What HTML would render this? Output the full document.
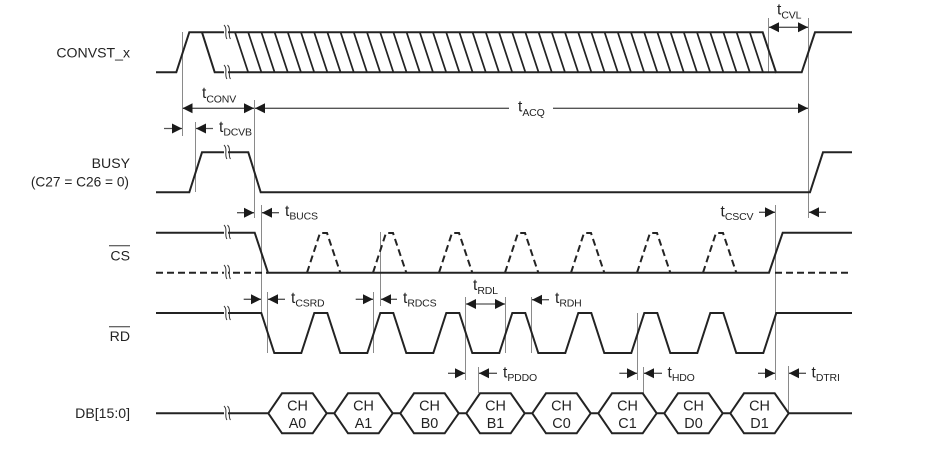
<!DOCTYPE html>
<html><head><meta charset="utf-8"><style>
html,body{margin:0;padding:0;background:#fff;width:926px;height:452px;overflow:hidden}
svg{display:block}
text{font-family:"Liberation Sans",Arial,sans-serif;fill:#232323}
.l{font-size:14.1px;text-anchor:end}
.s{font-size:13.7px;text-anchor:end}
.c{font-size:14.4px;text-anchor:middle}
.t{font-size:15.5px}
.t tspan{font-size:10.5px;letter-spacing:-.15px}
.m{fill:none;stroke:#232323;stroke-width:2}
.x{fill:none;stroke:#232323;stroke-width:1.7}
.d{fill:none;stroke:#232323;stroke-width:2;stroke-dasharray:7 4}
.v{fill:none;stroke:#8a8a8a;stroke-width:1}
.a{fill:none;stroke:#555;stroke-width:1.3}
.b{fill:none;stroke:#333;stroke-width:1}
.w{fill:#fff;stroke:none}
.h{fill:#1a1a1a;stroke:none}
</style></head><body>
<svg xmlns="http://www.w3.org/2000/svg" width="926" height="452" viewBox="0 0 926 452">
<!-- vertical guides -->
<path class="v" d="M182.5 32V136M254.5 100V218M808.5 18V218M768.5 18V72M195.5 122V192M261.5 205V313M267.5 292V353M373.5 292V353M380.5 232V306M465.5 297V380M505.5 297V353M531.5 297V353M478.5 367V393M637.5 313V380M643.5 367V393M775.5 205V380M788.5 366V413"/>
<!-- CONVST -->
<path class="m" d="M156 72.3H176.3L189.3 32.3H762.7L776 72.3H801.7L815 32.3H852"/>
<path class="m" d="M202 32.3L214.7 72.3H235"/>
<path class="x" d="M235 32.3l13.2 40M248.2 32.3l13.2 40M261.4 32.3l13.2 40M274.6 32.3l13.2 40M287.8 32.3l13.2 40M301 32.3l13.2 40M314.2 32.3l13.2 40M327.4 32.3l13.2 40M340.6 32.3l13.2 40M353.8 32.3l13.2 40M367 32.3l13.2 40M380.2 32.3l13.2 40M393.4 32.3l13.2 40M406.6 32.3l13.2 40M419.8 32.3l13.2 40M433 32.3l13.2 40M446.2 32.3l13.2 40M459.4 32.3l13.2 40M472.6 32.3l13.2 40M485.8 32.3l13.2 40M499 32.3l13.2 40M512.2 32.3l13.2 40M525.4 32.3l13.2 40M538.6 32.3l13.2 40M551.8 32.3l13.2 40M565 32.3l13.2 40M578.2 32.3l13.2 40M591.4 32.3l13.2 40M604.6 32.3l13.2 40M617.8 32.3l13.2 40M631 32.3l13.2 40M644.2 32.3l13.2 40M657.4 32.3l13.2 40M670.6 32.3l13.2 40M683.8 32.3l13.2 40M697 32.3l13.2 40M710.2 32.3l13.2 40M723.4 32.3l13.2 40M736.6 32.3l13.2 40M749.8 32.3l13.2 40"/>
<path class="m" d="M235 72.3H776"/>
<!-- BUSY -->
<path class="m" d="M156 192.3H189.3L202 152.3H248.3L260.7 192.3H810L823 152.3H852"/>
<!-- CS -->
<path class="m" d="M156 232.7H254.7L268 272.7H769L782.7 232.7H852"/>
<path class="d" d="M156 272.7H268M775 272.7H852"/>
<path class="d" d="M307 272.7L320 233H327L340.3 272.7M373 272.7L386 233H393L406.3 272.7M439 272.7L452 233H459L472.3 272.7M505 272.7L518 233H525L538.3 272.7M571 272.7L584 233H591L604.3 272.7M637 272.7L650 233H657L670.3 272.7M703 272.7L716 233H723L736.3 272.7"/>
<!-- RD -->
<path class="m" d="M156 313H261.3l13 40h27l13-40h13l13 40h27l13-40h13l13 40h27l13-40h13l13 40h27l13-40h13l13 40h27l13-40h13l13 40h27l13-40h13l13 40h27l13-40h13l13 40h27l13-40H852"/>
<!-- DB -->
<path class="m" d="M156 413.3H268.3l13.7-20h30.7l14 20l-14 20h-30.7l-13.7-20m58.4 0h7.6l13.7-20h30.7l14 20l-14 20h-30.7l-13.7-20m58.4 0h7.6l13.7-20h30.7l14 20l-14 20h-30.7l-13.7-20m58.4 0h7.6l13.7-20h30.7l14 20l-14 20h-30.7l-13.7-20m58.4 0h7.6l13.7-20h30.7l14 20l-14 20h-30.7l-13.7-20m58.4 0h7.6l13.7-20h30.7l14 20l-14 20h-30.7l-13.7-20m58.4 0h7.6l13.7-20h30.7l14 20l-14 20h-30.7l-13.7-20m58.4 0h7.6l13.7-20h30.7l14 20l-14 20h-30.7l-13.7-20m58.4 0H852"/>
<!-- break marks -->
<g>
<path class="w" d="M224 25h4v14h-4zM224 65h4v14h-4zM224 145h4v14h-4zM224 225h4v14h-4zM224 265h4v14h-4zM224 306h4v14h-4zM224 406h4v14h-4z"/>
<path class="b" d="M224 25c4 4 0 10 3 14M227.500 25c4 4 0 10 3 14M224 65c4 4 0 10 3 14M227.500 65c4 4 0 10 3 14M224 145c4 4 0 10 3 14M227.500 145c4 4 0 10 3 14M224 225c4 4 0 10 3 14M227.500 225c4 4 0 10 3 14M224 265c4 4 0 10 3 14M227.500 265c4 4 0 10 3 14M224 306c4 4 0 10 3 14M227.500 306c4 4 0 10 3 14M224 406c4 4 0 10 3 14M227.500 406c4 4 0 10 3 14"/>
</g>
<!-- arrow shafts -->
<path class="a" d="M183 108.300H254M255 108.300H509M553 108.300H808M769 27.300H808M164 128.500H182M196 128.500H213M237 212.700H254M262 212.700H279M759 212.300H775M809 212.300H826M243.700 299.300H261M268 299.300H285M355.700 299.300H373M381 299.300H397M466 304H505M532 299.700H549M448 373.300H465M479 373.300H497M619.300 373.300H637M644 373.300H662M758 373.300H775M789 373.300H806"/>
<!-- arrowheads -->
<path class="h" d="M182.500 108.300l10-5v10zM254 108.300l-10-5v10zM255 108.300l10-5v10zM808 108.300l-10-5v10zM769 27.300l10-5v10zM808 27.300l-10-5v10zM182 128.500l-10-5v10zM196 128.500l10-5v10zM254 212.700l-10-5v10zM262 212.700l10-5v10zM775 212.300l-10-5v10zM809 212.300l10-5v10zM261 299.300l-10-5v10zM268 299.300l10-5v10zM373 299.300l-10-5v10zM381 299.300l10-5v10zM466 304l10-5v10zM505 304l-10-5v10zM532 299.700l10-5v10zM465 373.300l-10-5v10zM479 373.300l10-5v10zM637 373.300l-10-5v10zM644 373.300l10-5v10zM775 373.300l-10-5v10zM789 373.300l10-5v10z"/>
<!-- signal labels -->
<text class="l" x="130" y="57.500">CONVST_x</text>
<text class="l" x="130" y="168">BUSY</text>
<text class="s" x="129" y="186.500">(C27 = C26 = 0)</text>
<text class="l" x="130" y="260.500">CS</text>
<text class="l" x="130" y="341">RD</text>
<text class="l" x="130" y="418">DB[15:0]</text>
<path d="M109 245.800H130M109 326.800H130" fill="none" stroke="#333" stroke-width="1"/>
<!-- timing labels -->
<text class="t" x="202" y="98">t<tspan dy="4.500">CONV</tspan></text>
<text class="t" x="518" y="111.500">t<tspan dy="4.500">ACQ</tspan></text>
<text class="t" x="777" y="14.500">t<tspan dy="4">CVL</tspan></text>
<text class="t" x="219" y="132">t<tspan dy="3.500">DCVB</tspan></text>
<text class="t" x="285" y="216">t<tspan dy="3.500">BUCS</tspan></text>
<text class="t" x="720.500" y="216.500">t<tspan dy="3.500">CSCV</tspan></text>
<text class="t" x="291" y="303">t<tspan dy="3.500">CSRD</tspan></text>
<text class="t" x="403" y="303">t<tspan dy="3.500">RDCS</tspan></text>
<text class="t" x="473" y="290">t<tspan dy="4">RDL</tspan></text>
<text class="t" x="555" y="303">t<tspan dy="3.500">RDH</tspan></text>
<text class="t" x="503" y="377.500">t<tspan dy="3.500">PDDO</tspan></text>
<text class="t" x="667.500" y="377.500">t<tspan dy="3.500">HDO</tspan></text>
<text class="t" x="811.500" y="377.500">t<tspan dy="3.500">DTRI</tspan></text>
<!-- hex labels -->
<text class="c" x="297.500" y="410.700">CH</text><text class="c" x="297.500" y="428">A0</text>
<text class="c" x="363.500" y="410.700">CH</text><text class="c" x="363.500" y="428">A1</text>
<text class="c" x="429.500" y="410.700">CH</text><text class="c" x="429.500" y="428">B0</text>
<text class="c" x="495.500" y="410.700">CH</text><text class="c" x="495.500" y="428">B1</text>
<text class="c" x="561.500" y="410.700">CH</text><text class="c" x="561.500" y="428">C0</text>
<text class="c" x="627.500" y="410.700">CH</text><text class="c" x="627.500" y="428">C1</text>
<text class="c" x="693.500" y="410.700">CH</text><text class="c" x="693.500" y="428">D0</text>
<text class="c" x="759.500" y="410.700">CH</text><text class="c" x="759.500" y="428">D1</text>
</svg>
</body></html>
